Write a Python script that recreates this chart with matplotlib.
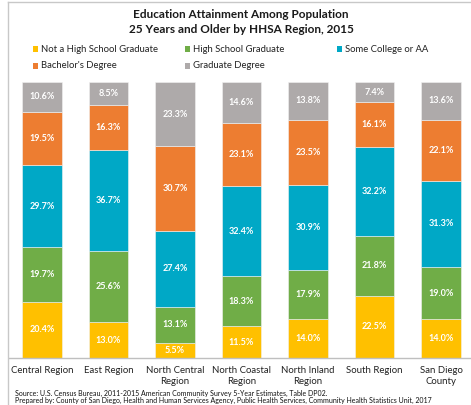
import matplotlib.pyplot as plt
from matplotlib.lines import Line2D
from matplotlib.patches import Rectangle

regions = ["Central Region", "East Region", "North Central\nRegion", "North Coastal\nRegion",
           "North Inland\nRegion", "South Region", "San Diego\nCounty"]
not_hs = [20.4, 13.0, 5.5, 11.5, 14.0, 22.5, 14.0]
hs_grad = [19.7, 25.6, 13.1, 18.3, 17.9, 21.8, 19.0]
some_college = [29.7, 36.7, 27.4, 32.4, 30.9, 32.2, 31.3]
bachelor = [19.5, 16.3, 30.7, 23.1, 23.5, 16.1, 22.1]
graduate = [10.6, 8.5, 23.3, 14.6, 13.8, 7.4, 13.6]

series = [("Not a High School Graduate", not_hs, "#FFC000"),
          ("High School Graduate", hs_grad, "#70AD47"),
          ("Some College or AA", some_college, "#00A8C6"),
          ("Bachelor's Degree", bachelor, "#ED7D31"),
          ("Graduate Degree", graduate, "#AEAAAA")]

plt.rcParams['font.family'] = ['Lato', 'DejaVu Sans']

W, H = 471, 405
fig = plt.figure(figsize=(W / 100, H / 100), dpi=100)

# axes placed in pixel terms so the bars line up with the reference
left_px, base_px, top_px = 8.75, 358, 82
ax = fig.add_axes([left_px / W, 1 - base_px / H, (W - left_px) / W, (base_px - top_px) / H])

x = list(range(len(regions)))
bottom = [0] * len(regions)
for name, vals, color in series:
    bars = ax.bar(x, vals, width=0.6, bottom=bottom, color=color, edgecolor='#f2f2f2', linewidth=0.4)
    ax.bar_label(bars, labels=[f"{v:.1f}%" for v in vals], label_type='center',
                 color='white', fontsize=6.5, fontweight='bold')
    bottom = [b + v for b, v in zip(bottom, vals)]

ax.set_xlim(-0.5, (W - 42) / 66.5)
ax.set_ylim(0, 100)
ax.set_xticks(x)
ax.set_xticklabels(regions, fontsize=6.9, color='#222222', linespacing=1.3)
ax.tick_params(axis='x', length=0, pad=6)
ax.set_yticks([])
for s in ['top', 'right', 'left']:
    ax.spines[s].set_visible(False)
ax.spines['bottom'].set_color('#bfbfbf')
ax.spines['bottom'].set_linewidth(1.0)

# title
fig.text(241 / W, 1 - 22 / H, "Education Attainment Among Population\n25 Years and Older by HHSA Region, 2015",
         ha='center', va='center', fontsize=8.5, fontweight='bold', color='#1a1a1a', linespacing=1.35)

# legend, laid out like the spreadsheet's
legend_pos = [(35, 49), (187, 49), (339, 49), (35, 66), (187, 66)]
for (name, vals, color), (lx, ly) in zip(series, legend_pos):
    fig.add_artist(Rectangle(((lx - 2.5) / W, 1 - (ly + 2.5) / H), 5 / W, 5 / H,
                             transform=fig.transFigure, facecolor=color, edgecolor='none'))
    fig.text((lx + 6) / W, 1 - ly / H, name, ha='left', va='center', fontsize=6.8, color='#222222')

# source notes
fig.text(15 / W, 1 - 393 / H,
         "Source: U.S. Census Bureau, 2011-2015 American Community Survey 5-Year Estimates, Table DP02.",
         ha='left', va='center', fontsize=5, color='#111111')
fig.text(15 / W, 1 - 400.5 / H,
         "Prepared by: County of San Diego, Health and Human Services Agency, Public Health Services, "
         "Community Health Statistics Unit, 2017",
         ha='left', va='center', fontsize=5, color='#111111')

# chart frame edges
fig.add_artist(Line2D([8 / W, 1], [1 - 2 / H, 1 - 2 / H], color='#c8c8c8', linewidth=1))
fig.add_artist(Line2D([8 / W, 8 / W], [0, 1 - 2 / H], color='#c8c8c8', linewidth=1))

fig.savefig("out.png", dpi=100)
